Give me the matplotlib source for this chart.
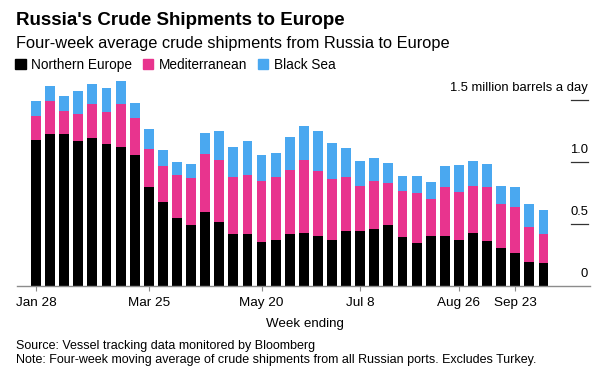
import matplotlib
matplotlib.use("Agg")
import matplotlib.pyplot as plt
from matplotlib.patches import Patch
import numpy as np

plt.rcParams["font.family"] = ["Liberation Sans", "DejaVu Sans"]

# --------------------------------------------------
# Daten (Millionen Barrel pro Tag, kumuliert abgelesen)
# --------------------------------------------------
weeks = [
    "Jan 28", "Feb 4", "Feb 11", "Feb 18", "Feb 25", "Mar 4", "Mar 11", "Mar 18",
    "Mar 25", "Apr 1", "Apr 8", "Apr 15", "Apr 22", "Apr 29", "May 6", "May 13",
    "May 20", "May 27", "Jun 3", "Jun 10", "Jun 17", "Jun 24", "Jul 1", "Jul 8",
    "Jul 15", "Jul 22", "Jul 29", "Aug 5", "Aug 12", "Aug 19", "Aug 26", "Sep 2",
    "Sep 9", "Sep 16", "Sep 23", "Sep 30", "Oct 7",
]
northern = [
    1.175, 1.226, 1.221, 1.167, 1.189, 1.143, 1.121, 1.054,
    0.798, 0.675, 0.548, 0.490, 0.594, 0.511, 0.414, 0.414,
    0.352, 0.368, 0.419, 0.427, 0.398, 0.368, 0.441, 0.441,
    0.460, 0.490, 0.390, 0.347, 0.400, 0.400, 0.368, 0.427,
    0.360, 0.306, 0.264, 0.189, 0.181,
]
med_top = [
    1.368, 1.490, 1.409, 1.387, 1.468, 1.403, 1.468, 1.350,
    1.100, 0.963, 0.895, 0.866, 1.062, 1.011, 0.874, 0.895,
    0.842, 0.874, 0.935, 1.016, 0.927, 0.858, 0.879, 0.804,
    0.844, 0.828, 0.766, 0.745, 0.699, 0.793, 0.756, 0.806,
    0.793, 0.661, 0.632, 0.473, 0.417,
]
total = [
    1.490, 1.613, 1.530, 1.568, 1.627, 1.597, 1.648, 1.476,
    1.264, 1.092, 0.995, 0.984, 1.229, 1.248, 1.121, 1.167,
    1.054, 1.070, 1.199, 1.288, 1.248, 1.153, 1.113, 1.003,
    1.030, 0.992, 0.887, 0.887, 0.836, 0.963, 0.971, 1.003,
    0.979, 0.804, 0.798, 0.661, 0.608,
]
mediterranean = [m - n for m, n in zip(med_top, northern)]
black_sea = [t - m for t, m in zip(total, med_top)]

tick_labels = ["Jan 28", "Mar 25", "May 20", "Jul 8", "Aug 26", "Sep 23"]
y_ticks = [0, 0.5, 1.0, 1.5]
y_labels = ["0", "0.5", "1.0", "1.5 million barrels a day"]

C_NORTH = "#000000"
C_MED = "#e8348e"
C_BLACK = "#4aa8f0"

# --------------------------------------------------
# Plot
# --------------------------------------------------
fig = plt.figure(figsize=(6, 3.73), dpi=100)
ax = fig.add_axes([17 / 600, 1 - 285.7 / 373, 573 / 600, (285.7 - 75) / 373])

x = np.arange(len(weeks))
w = 0.7
ax.bar(x, northern, width=w, color=C_NORTH, linewidth=0)
ax.bar(x, mediterranean, width=w, bottom=northern, color=C_MED, linewidth=0)
ax.bar(x, black_sea, width=w, bottom=med_top, color=C_BLACK, linewidth=0)

ax.set_xlim(-1.35, 39.3)
ax.set_ylim(0, 1.70)

for s in ["top", "right", "left"]:
    ax.spines[s].set_visible(False)
ax.spines["bottom"].set_color("#8c8c8c")
ax.spines["bottom"].set_linewidth(1.0)

ax.set_yticks([])
pos = [weeks.index(t) for t in tick_labels]
ax.set_xticks(pos)
ax.set_xticklabels(tick_labels, fontsize=9.7)
ax.tick_params(axis="x", length=3.6, color="#8c8c8c", pad=4.5)

# rechte Skala: kurze Striche mit Text darüber
trans = ax.get_yaxis_transform()
for v, lab in zip(y_ticks, y_labels):
    if v > 0:
        ax.plot([0.966, 0.9965], [v, v], transform=trans, color="#333333",
                lw=0.9, clip_on=False)
    ax.annotate(lab, xy=(0.9965, v), xycoords=trans, xytext=(0, 4),
                textcoords="offset points", ha="right", va="bottom",
                fontsize=9.4)

# Titel, Untertitel, Legende
fig.text(16 / 600, 1 - 25 / 373, "Russia's Crude Shipments to Europe",
         fontsize=13.5, fontweight="bold", ha="left", va="baseline")
fig.text(16 / 600, 1 - 48 / 373,
         "Four-week average crude shipments from Russia to Europe",
         fontsize=11.8, ha="left", va="baseline")

handles = [Patch(color=C_NORTH), Patch(color=C_MED), Patch(color=C_BLACK)]
fig.legend(handles, ["Northern Europe", "Mediterranean", "Black Sea"],
           loc="center left", bbox_to_anchor=(10 / 600, 1 - 65 / 373),
           ncol=3, frameon=False, fontsize=9.8, handlelength=0.75,
           handleheight=0.75, handletextpad=0.4, columnspacing=0.8,
           borderaxespad=0)

fig.text(305 / 600, 1 - 326.5 / 373, "Week ending",
         fontsize=9.6, ha="center", va="baseline")
fig.text(16 / 600, 1 - 349.5 / 373,
         "Source: Vessel tracking data monitored by Bloomberg",
         fontsize=9.0, ha="left", va="baseline")
fig.text(16 / 600, 1 - 362.5 / 373,
         "Note: Four-week moving average of crude shipments from all Russian ports. Excludes Turkey.",
         fontsize=9.0, ha="left", va="baseline")

fig.savefig("out.png", dpi=100)
